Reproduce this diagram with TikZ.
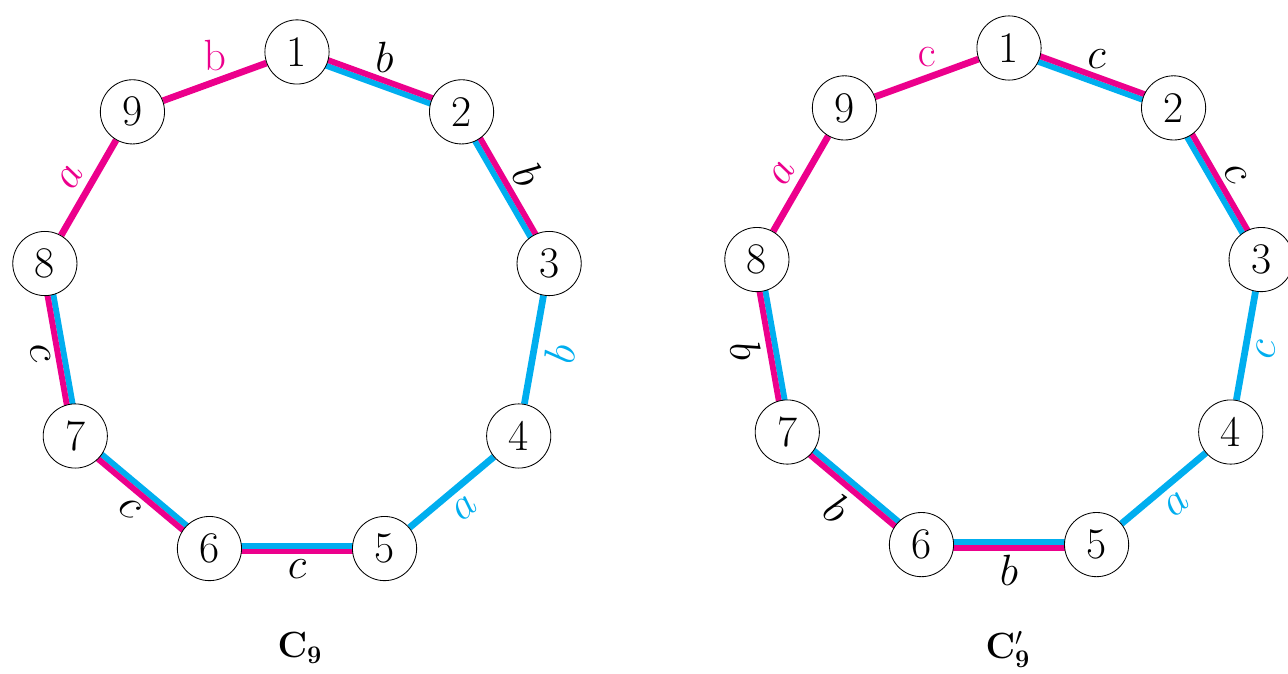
\documentclass[tikz,border=0pt]{standalone}
\usepackage{amsmath,amsfonts}
\usepackage{tikz}
\usetikzlibrary{calc,backgrounds}
\definecolor{pinkcol}{RGB}{236,0,140}
\definecolor{bluecol}{RGB}{0,174,239}

\begin{document}
\begin{tikzpicture}
      \tikzstyle{vertex}=[circle,draw,fill=white,inner sep=0pt,minimum size=1.07cm,font=\huge]
      \tikzstyle{lbl}=[font=\huge,inner sep=5pt]
      \tikzstyle{pinkline}=[pinkcol,line width=2.8pt]
      \tikzstyle{blueline}=[bluecol,line width=2.8pt]
      \useasboundingbox (0,0) rectangle (21.467,-11.217);
      % the two 9-cycles
      \begin{scope}[shift={(4.95,-5.133)}]
        \foreach \i in {1,...,9} {\node[vertex] at ({90-40*(\i-1)}:4.267) (l\i) {\i};}
      \end{scope}
      \begin{scope}[shift={(16.817,-5.067)}]
        \foreach \i in {1,...,9} {\node[vertex] at ({90-40*(\i-1)}:4.267) (r\i) {\i};}
      \end{scope}
      \begin{pgfonlayer}{background}
        % doubled edges: blue inside, pink outside
        \foreach \c in {l,r}{
          \foreach \i/\j in {1/2,2/3,5/6,6/7,7/8}{
            \draw[blueline] ($(\c\i)!1.4pt!-90:(\c\j)$) -- ($(\c\j)!1.4pt!90:(\c\i)$);
            \draw[pinkline] ($(\c\i)!1.4pt!90:(\c\j)$) -- ($(\c\j)!1.4pt!-90:(\c\i)$);
          }
          \foreach \i/\j in {3/4,4/5}{\draw[bluecol,line width=3.2pt] (\c\i) -- (\c\j);}
          \foreach \i/\j in {8/9,9/1}{\draw[pinkcol,line width=3.2pt] (\c\i) -- (\c\j);}
        }
      \end{pgfonlayer}
      % labels of the left cycle
      \path (l9) -- (l1) node[midway,lbl,above,pinkcol]{$\mathrm{b}$};
      \path (l1) -- (l2) node[pos=0.55,lbl,above]{$b$};
      \path (l2) -- (l3) node[midway,lbl,sloped,above]{$b$};
      \path (l3) -- (l4) node[midway,lbl,sloped,below,bluecol]{$b$};
      \path (l4) -- (l5) node[midway,lbl,sloped,below,bluecol]{$a$};
      \path (l5) -- (l6) node[midway,lbl,below]{$c$};
      \path (l6) -- (l7) node[midway,lbl,sloped,below]{$c$};
      \path (l7) -- (l8) node[midway,lbl,sloped,below]{$c$};
      \path (l8) -- (l9) node[midway,lbl,sloped,above,pinkcol]{$a$};
      % labels of the right cycle
      \path (r9) -- (r1) node[midway,lbl,above,pinkcol]{$\mathrm{c}$};
      \path (r1) -- (r2) node[pos=0.55,lbl,above]{$c$};
      \path (r2) -- (r3) node[midway,lbl,sloped,above]{$c$};
      \path (r3) -- (r4) node[midway,lbl,sloped,below,bluecol]{$c$};
      \path (r4) -- (r5) node[midway,lbl,sloped,below,bluecol]{$a$};
      \path (r5) -- (r6) node[midway,lbl,below]{$b$};
      \path (r6) -- (r7) node[midway,lbl,sloped,below]{$b$};
      \path (r7) -- (r8) node[midway,lbl,sloped,below]{$b$};
      \path (r8) -- (r9) node[midway,lbl,sloped,above,pinkcol]{$a$};
      \node[font=\LARGE] at (5.0,-10.8) (capl) {$\mathbf{C_9}$};
      \node[font=\LARGE] at (16.8,-10.83) (capr) {$\mathbf{C'_9}$};
    \end{tikzpicture}
\end{document}
